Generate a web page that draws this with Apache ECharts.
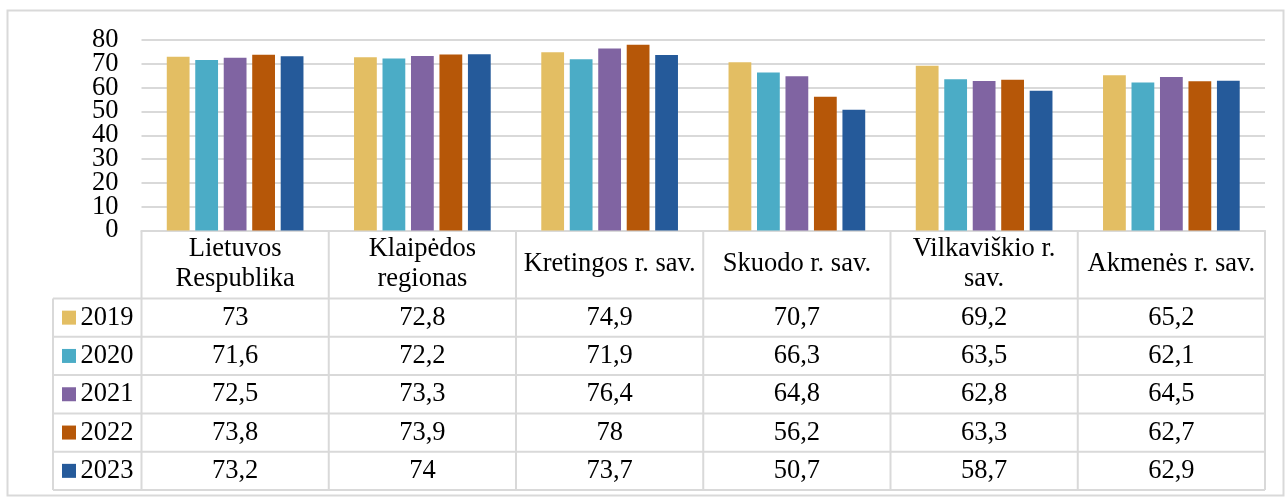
<!DOCTYPE html>
<html><head><meta charset="utf-8">
<script src="https://cdn.jsdelivr.net/npm/echarts@6/dist/echarts.min.js"></script>
<style>html,body{margin:0;padding:0;background:#fff}#c{width:1285px;height:497px}</style>
</head><body><div id="c"></div>
<script>
// ---- data ----
const categories = ['Lietuvos\nRespublika', 'Klaipėdos\nregionas', 'Kretingos r. sav.', 'Skuodo r. sav.', 'Vilkaviškio r.\nsav.', 'Akmenės r. sav.'];
const years = ['2019', '2020', '2021', '2022', '2023'];
const v2019 = [73, 72.8, 74.9, 70.7, 69.2, 65.2];
const v2020 = [71.6, 72.2, 71.9, 66.3, 63.5, 62.1];
const v2021 = [72.5, 73.3, 76.4, 64.8, 62.8, 64.5];
const v2022 = [73.8, 73.9, 78, 56.2, 63.3, 62.7];
const v2023 = [73.2, 74, 73.7, 50.7, 58.7, 62.9];
const seriesValues = [v2019, v2020, v2021, v2022, v2023];
const yTickLabels = [0, 10, 20, 30, 40, 50, 60, 70, 80];
const yMin = 0, yMax = 80, yStep = 10;

// ---- styles ----
const colors = ['#E3BE63', '#4BACC6', '#8064A2', '#B65708', '#255A9A'];
const FONT = "'Liberation Serif', 'Times New Roman', serif";
const FS = 26.5;
const LINE = '#d9d9d9';

const chart = echarts.init(document.getElementById('c'), null, {renderer: 'canvas'});
chart.setOption({
  animation: false,
  grid: {left: 141.5, right: 20, top: 40, bottom: 266.5, containLabel: false},
  xAxis: {
    type: 'category', data: categories,
    axisLine: {lineStyle: {color: LINE, width: 2}},
    axisTick: {show: false}, axisLabel: {show: false}, splitLine: {show: false}
  },
  yAxis: {
    type: 'value', min: yMin, max: yMax, interval: yStep,
    axisLine: {show: false}, axisTick: {show: false},
    axisLabel: {show: false},
    splitLine: {lineStyle: {color: LINE, width: 2}}
  },
  series: years.map((y, i) => ({
    name: y, type: 'bar', data: seriesValues[i],
    barGap: '25%', barCategoryGap: '27%',
    itemStyle: {color: colors[i]}
  }))
});

function buildTable() {
  const n = categories.length;
  const c0 = chart.convertToPixel({xAxisIndex: 0}, 0);
  const c1 = chart.convertToPixel({xAxisIndex: 0}, 1);
  const band = c1 - c0;
  const axisY = chart.convertToPixel({yAxisIndex: 0}, 0);
  const headerH = 68, rowH = 38.3;
  const leftX = c0 - band / 2;
  const legendX = leftX - 88.5;
  const rightX = leftX + band * n;
  const rowTop = axisY + headerH;
  const bottomY = rowTop + rowH * years.length;
  const els = [];
  const font = FS + 'px ' + FONT;
  // y-axis tick labels placed through the axis scale
  yTickLabels.forEach(t => els.push({type: 'text', silent: true,
    x: leftX - 23, y: chart.convertToPixel({yAxisIndex: 0}, t),
    style: {text: String(t), fill: '#000', font, align: 'right', verticalAlign: 'middle'}}));
  const line = (x1, y1, x2, y2) => els.push({type: 'line', silent: true,
    shape: {x1, y1, x2, y2}, style: {stroke: LINE, lineWidth: 2}});
  for (let j = 0; j <= n; j++) line(leftX + band * j, axisY, leftX + band * j, bottomY);
  line(legendX, rowTop, legendX, bottomY);
  for (let r = 0; r <= years.length; r++) line(legendX, rowTop + rowH * r, rightX, rowTop + rowH * r);
  categories.forEach((c, j) => els.push({type: 'text', silent: true,
    x: leftX + band * (j + 0.5), y: axisY + headerH / 2,
    style: {text: c, fill: '#000', font, align: 'center', verticalAlign: 'middle', lineHeight: 30}}));
  years.forEach((y, r) => {
    const cy = rowTop + rowH * (r + 0.5);
    els.push({type: 'rect', silent: true, shape: {x: legendX + 9, y: cy - 7, width: 14, height: 14}, style: {fill: colors[r]}});
    els.push({type: 'text', silent: true, x: legendX + 27.5, y: cy,
      style: {text: y, fill: '#000', font, align: 'left', verticalAlign: 'middle'}});
    seriesValues[r].forEach((v, j) => els.push({type: 'text', silent: true,
      x: leftX + band * (j + 0.5), y: cy,
      style: {text: String(v).replace('.', ','), fill: '#000', font, align: 'center', verticalAlign: 'middle'}}));
  });
  els.push({type: 'rect', silent: true, shape: {x: 7.5, y: 10.5, width: 1276, height: 485}, style: {fill: 'none', stroke: LINE, lineWidth: 2}});
  chart.setOption({graphic: els});
}
buildTable();
</script>
</body></html>
